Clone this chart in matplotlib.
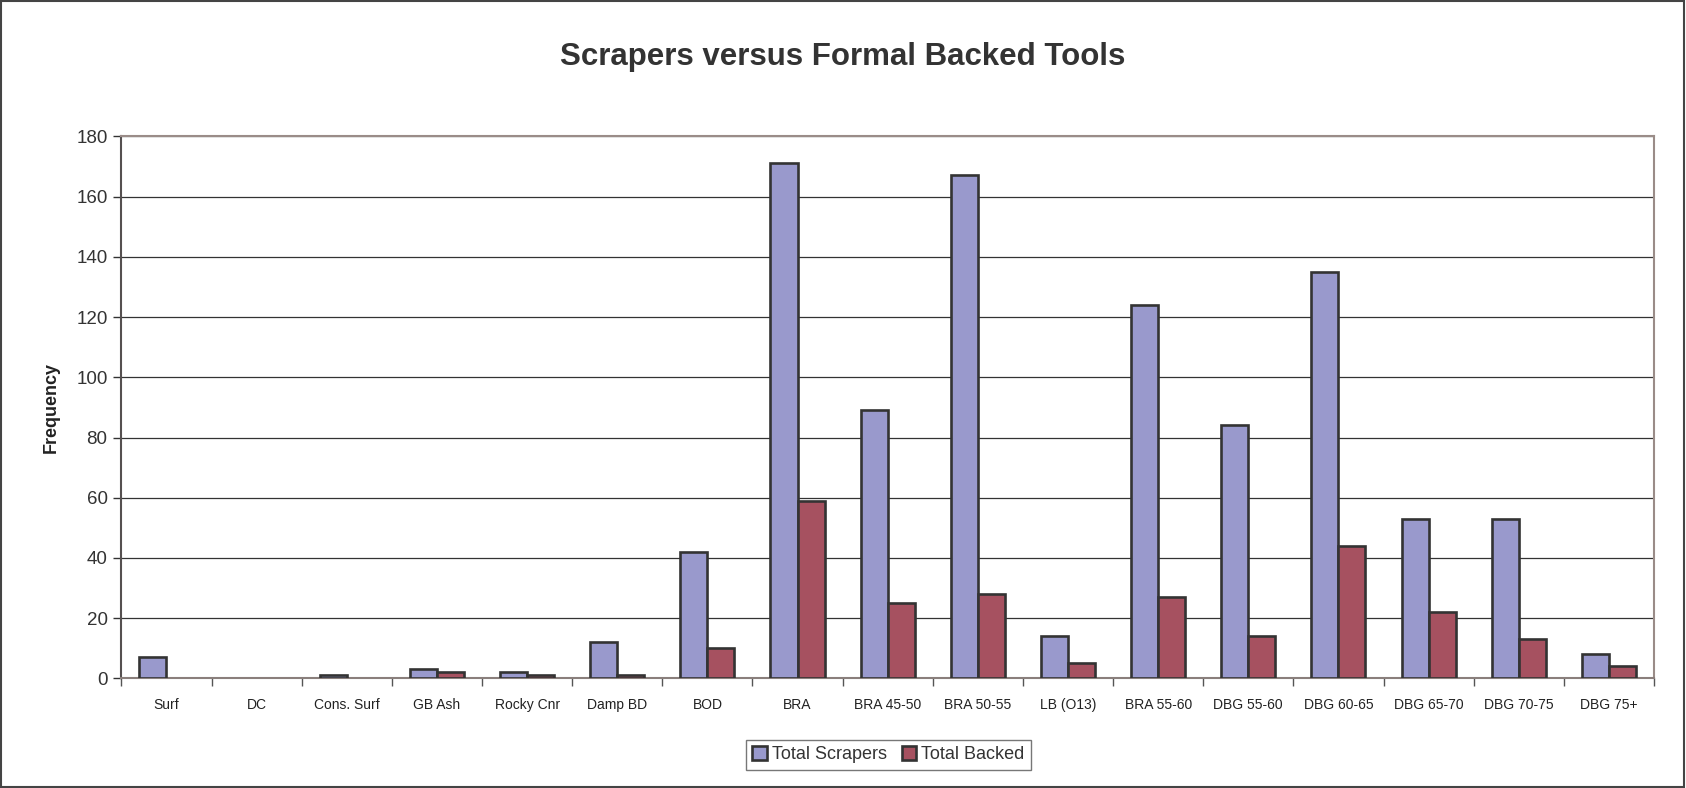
import numpy as np
import matplotlib.pyplot as plt
from matplotlib.patches import Rectangle

plt.rcParams['font.family'] = ['Liberation Sans', 'DejaVu Sans']

categories = ['Surf', 'DC', 'Cons. Surf', 'GB Ash', 'Rocky Cnr', 'Damp BD', 'BOD',
              'BRA', 'BRA 45-50', 'BRA 50-55', 'LB (O13)', 'BRA 55-60', 'DBG 55-60',
              'DBG 60-65', 'DBG 65-70', 'DBG 70-75', 'DBG 75+']
total_scrapers = [7, 0, 1, 3, 2, 12, 42, 171, 89, 167, 14, 124, 84, 135, 53, 53, 8]
total_backed = [0, 0, 0, 2, 1, 1, 10, 59, 25, 28, 5, 27, 14, 44, 22, 13, 4]

fig = plt.figure(figsize=(16.86, 7.88), dpi=100)
ax = fig.add_axes([0.072, 0.139, 0.909, 0.688])

x = np.arange(len(categories))
w = 0.3
# no outline for empty bars
lw_s = [0 if v == 0 else 1.9 for v in total_scrapers]
lw_b = [0 if v == 0 else 1.9 for v in total_backed]
ax.bar(x - w/2, total_scrapers, w, color='#9999cc', edgecolor='#333333',
       linewidth=lw_s, label='Total Scrapers', zorder=3)
ax.bar(x + w/2, total_backed, w, color='#a65160', edgecolor='#333333',
       linewidth=lw_b, label='Total Backed', zorder=3)

ax.set_xlim(-0.5, len(categories) - 0.5)
ax.set_ylim(0, 180)
ax.set_yticks(range(0, 181, 20))
ax.tick_params(axis='y', labelsize=13.5, colors='#333333', length=6, width=1, pad=4)
ax.set_xticks(x)
ax.set_xticklabels(categories, fontsize=10, color='#222222')
ax.set_xticks(np.arange(-0.5, len(categories)), minor=True)
ax.tick_params(axis='x', which='major', length=0, pad=14)
ax.tick_params(axis='x', which='minor', length=6, width=1, color='#555555')
ax.yaxis.grid(True, color='#333333', linewidth=0.9, zorder=0)

for s in ['top', 'right']:
    ax.spines[s].set_color('#9a8c88')
    ax.spines[s].set_linewidth(1.5)
ax.spines['left'].set_color('#555050')
ax.spines['left'].set_linewidth(1.5)
ax.spines['bottom'].set_color('#8a7f7c')
ax.spines['bottom'].set_linewidth(1.5)

ax.set_ylabel('Frequency', fontsize=13, fontweight='bold', color='#222222', labelpad=12)
fig.text(0.5, 0.928, 'Scrapers versus Formal Backed Tools', ha='center', va='center',
         fontsize=22.5, fontweight='bold', color='#333333')

leg = fig.legend(loc='center', bbox_to_anchor=(0.527, 0.042), ncol=2, fontsize=13,
                 frameon=True, fancybox=False, edgecolor='#555555', handlelength=0.8,
                 handleheight=0.8, handletextpad=0.3, columnspacing=0.8,
                 borderpad=0.35, labelcolor='#333333')
leg.get_frame().set_linewidth(1.0)
for h in leg.legend_handles:
    h.set_linewidth(1.9)
    h.set_edgecolor('#333333')

fig.patches.append(Rectangle((0.0005, 0.001), 0.9985, 0.998, transform=fig.transFigure,
                             fill=False, edgecolor='#444444', linewidth=1.5))

fig.savefig('out.png', dpi=100)
